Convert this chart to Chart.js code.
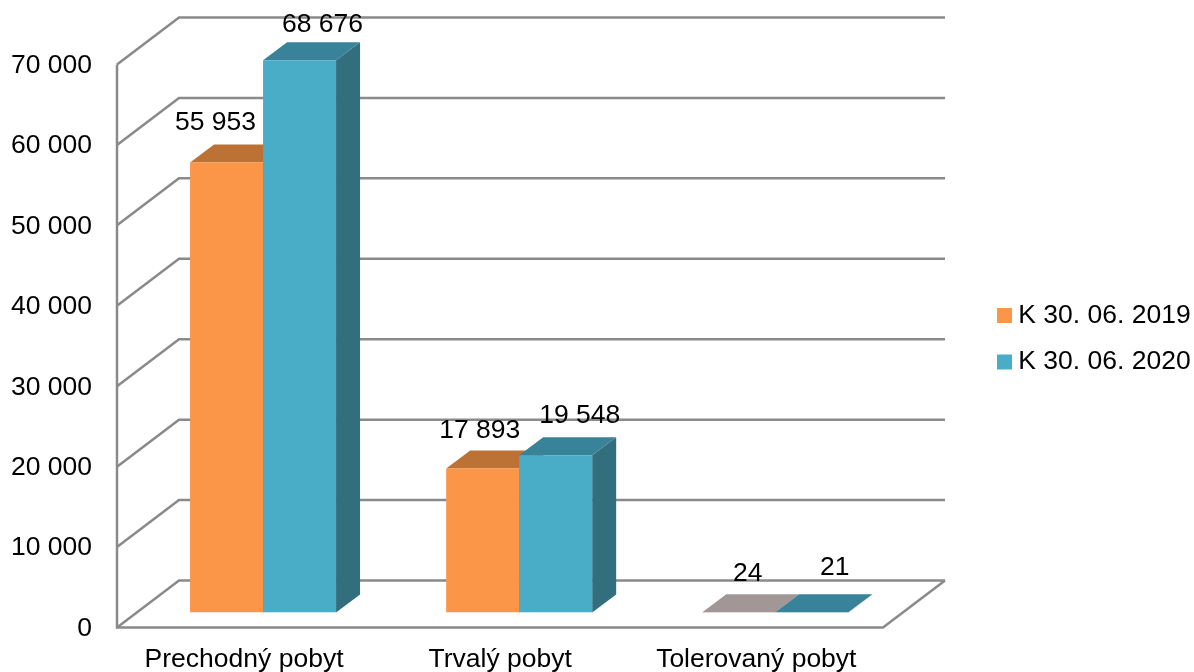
<!DOCTYPE html>
<html>
<head>
<meta charset="utf-8">
<style>body { margin: 0; background: #fff; }</style>
<script src="https://cdn.jsdelivr.net/npm/chart.js@4"></script>
</head>
<body>
<canvas id="myChart" width="1194" height="672"></canvas>
<script>
const categories = ["Prechodný pobyt", "Trvalý pobyt", "Tolerovaný pobyt"];
const seriesNames = ["K 30. 06. 2019", "K 30. 06. 2020"];
const values2019 = [55953, 17893, 24];
const values2020 = [68676, 19548, 21];

const frontColors = ["#FB9649", "#4AADC8"];
const topColors = ["#BB7234", "#38829A"];
const sideColors = ["#8C5526", "#326E7E"];
const flatTopColor = "#A29797"; // the 24 bar shows up greyish on the floor
const gridColor = "#8A8A8A";

// wall depth and bar depth of the fake 3d box
const wallDx = 62, wallDy = -47, frontX = 117, frontW = 766, baseDrop = 15;
const barDx = 24, barDy = -18;
// label offset from bar centre / top, every label sits somewhere else
const labelNudge = [
    [[-11, -40], [-3, -38], [9, -39]],
    [[23, -35], [24, -40], [23, -45]]
];

const fmt = v => String(v).replace(/\B(?=(\d{3})+$)/g, " ");

function poly(ctx, pts, color) {
    ctx.fillStyle = color;
    ctx.beginPath();
    pts.forEach((p, i) => i ? ctx.lineTo(p[0], p[1]) : ctx.moveTo(p[0], p[1]));
    ctx.closePath();
    ctx.fill();
}

const box3d = {
    id: "box3d",
    afterLayout(chart) {
        // legend sits closer to the right edge than its own padding allows
        const lg = chart.legend;
        lg.left = 1004 - lg.options.labels.padding;
        lg.right = 1194;
        lg.top -= 22;
        lg.bottom -= 22;
    },
    beforeDatasetsDraw(chart) {
        const ctx = chart.ctx, y = chart.scales.y;
        ctx.save();
        ctx.strokeStyle = gridColor;
        ctx.lineWidth = 2.5;
        // walls and gridlines
        y.ticks.forEach(t => {
            const py = y.getPixelForValue(t.value) + baseDrop;
            ctx.beginPath();
            ctx.moveTo(frontX, py);
            ctx.lineTo(frontX + wallDx, py + wallDy);
            ctx.lineTo(frontX + wallDx + frontW, py + wallDy);
            ctx.stroke();
        });
        const p0 = y.getPixelForValue(0) + baseDrop;
        const pMax = y.getPixelForValue(70000) + baseDrop;
        ctx.beginPath();
        ctx.moveTo(frontX, pMax);
        ctx.lineTo(frontX, p0);
        ctx.lineTo(frontX + frontW, p0);
        ctx.lineTo(frontX + frontW + wallDx, p0 + wallDy);
        ctx.stroke();
        // top and side faces, fronts come from chart.js on top of these
        chart.data.datasets.forEach((ds, d) => {
            chart.getDatasetMeta(d).data.forEach(bar => {
                const l = bar.x - bar.width / 2, r = bar.x + bar.width / 2;
                const t = bar.y, b = bar.base;
                const flat = b - t < 2;
                poly(ctx, [[r, t], [r + barDx, t + barDy], [r + barDx, b + barDy], [r, b]], sideColors[d]);
                poly(ctx, [[l, t], [l + barDx, t + barDy], [r + barDx, t + barDy], [r, t]],
                    flat && d === 0 ? flatTopColor : topColors[d]);
            });
        });
        ctx.restore();
    },
    afterDatasetsDraw(chart) {
        const ctx = chart.ctx;
        ctx.save();
        ctx.fillStyle = "#000";
        ctx.font = '26.5px "Liberation Sans"';
        ctx.textAlign = "center";
        ctx.textBaseline = "middle";
        chart.data.datasets.forEach((ds, d) => {
            chart.getDatasetMeta(d).data.forEach((bar, i) => {
                const n = labelNudge[d][i];
                ctx.fillText(fmt(ds.data[i]), bar.x + n[0], bar.y + n[1]);
            });
        });
        ctx.restore();
    }
};

Chart.defaults.font.family = '"Liberation Sans"';
Chart.defaults.color = "#000";

new Chart(document.getElementById("myChart"), {
    type: "bar",
    data: {
        labels: categories,
        datasets: [
            { label: seriesNames[0], data: values2019, backgroundColor: frontColors[0] },
            { label: seriesNames[1], data: values2020, backgroundColor: frontColors[1] }
        ]
    },
    options: {
        responsive: false,
        animation: false,
        layout: { padding: { top: 49.5, right: 74, bottom: 0, left: 0 } },
        datasets: { bar: { categoryPercentage: 0.57, barPercentage: 1 } },
        scales: {
            x: {
                grid: { display: false, drawTicks: false },
                border: { display: false },
                afterFit: s => { s.height = 59.5; },
                ticks: { font: { size: 26.5 }, padding: 31, labelOffset: -19, maxRotation: 0 }
            },
            y: {
                min: 0,
                max: 70000,
                grid: { display: false, drawTicks: false },
                border: { display: false },
                // the big tick padding would otherwise push the plot area down
                afterFit: s => { s.width = 135; s.paddingTop = 0; s.paddingBottom = 0; },
                ticks: { stepSize: 10000, font: { size: 26.5 }, padding: 43, labelOffset: 16, callback: v => fmt(v) }
            }
        },
        plugins: {
            tooltip: { enabled: false },
            legend: {
                position: "right",
                labels: {
                    font: { size: 26.5 },
                    boxWidth: 1,
                    boxHeight: 1,
                    padding: 20,
                    generateLabels(chart) {
                        return Chart.defaults.plugins.legend.labels.generateLabels(chart).map((it, i) => {
                            it.lineWidth = 14;
                            it.strokeStyle = frontColors[i];
                            return it;
                        });
                    }
                }
            }
        }
    },
    plugins: [box3d]
});
</script>
</body>
</html>
